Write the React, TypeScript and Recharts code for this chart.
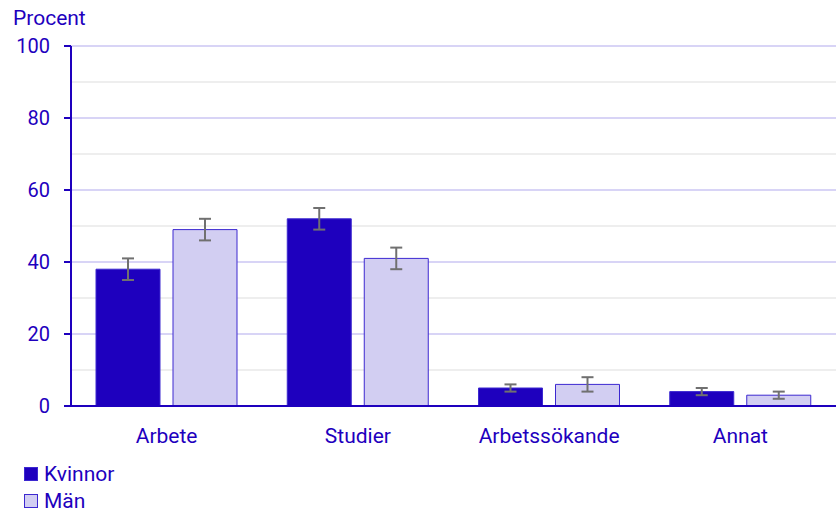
import React from "react";
import { BarChart, Bar, XAxis, YAxis, ErrorBar, CartesianGrid } from "recharts";

const categories = ["Arbete", "Studier", "Arbetssökande", "Annat"];
const kvinnor = [38, 52, 5, 4];
const kvinnorErr = [3, 3, 1, 1];
const man = [49, 41, 6, 3];
const manErr = [3, 3, 2, 1];
const yTicks = [0, 20, 40, 60, 80, 100];
const majorLines = [20, 40, 60, 80, 100];
const minorLines = [10, 30, 50, 70, 90];

const TEXT = "#1E00BE";
const DARK = "#1E00BE";
const LIGHT = "#D2CEF2";
const EDGE = "#3C28D0";
const FONT = "Roboto, 'Noto Sans', sans-serif";

const data = categories.map((name, i) => ({
  name,
  kvinnor: kvinnor[i],
  kvinnorErr: kvinnorErr[i],
  man: man[i],
  manErr: manErr[i],
}));

export default function App() {
  return (
    <div style={{ position: "absolute", left: 0, top: 0, width: 836, height: 514, fontFamily: FONT, background: "#fff" }}>
      <BarChart
        width={836}
        height={460}
        data={data}
        margin={{ top: 46, right: 0, left: 11, bottom: 0 }}
        barCategoryGap={25}
        barGap={13}
      >
        <CartesianGrid vertical={false} horizontalValues={minorLines} stroke="#EEEEEE" strokeWidth={2} />
        <CartesianGrid vertical={false} horizontalValues={majorLines} stroke="#D8D4F6" strokeWidth={2} />
        <XAxis
          dataKey="name"
          axisLine={{ stroke: DARK, strokeWidth: 2 }}
          tickLine={false}
          tickSize={6}
          tickMargin={16}
          tick={{ fill: TEXT, fontSize: 21, fontFamily: FONT }}
          height={54}
        />
        <YAxis
          domain={[0, 100]}
          ticks={yTicks}
          width={60}
          axisLine={{ stroke: DARK, strokeWidth: 2 }}
          tickLine={{ stroke: DARK, strokeWidth: 2 }}
          tickSize={7}
          tickMargin={14}
          tick={{ fill: TEXT, fontSize: 20, fontFamily: FONT }}
        />
        <Bar dataKey="kvinnor" fill={DARK} stroke={EDGE} strokeWidth={1} isAnimationActive={false}>
          <ErrorBar dataKey="kvinnorErr" width={6} stroke="#707070" strokeWidth={2} isAnimationActive={false} />
        </Bar>
        <Bar dataKey="man" fill={LIGHT} stroke={EDGE} strokeWidth={1} isAnimationActive={false}>
          <ErrorBar dataKey="manErr" width={6} stroke="#707070" strokeWidth={2} isAnimationActive={false} />
        </Bar>
      </BarChart>
      <svg
        width={836}
        height={514}
        style={{ position: "absolute", left: 0, top: 0, pointerEvents: "none" }}
        fontFamily={FONT}
      >
        <text x={13} y={25} fontSize={21} fill={TEXT}>Procent</text>
        <rect x={24.5} y={467.5} width={13} height={13} fill={DARK} stroke={EDGE} />
        <text x={44} y={481} fontSize={21} fill={TEXT}>Kvinnor</text>
        <rect x={24.5} y={494.5} width={13} height={13} fill={LIGHT} stroke={EDGE} />
        <text x={44} y={508} fontSize={21} fill={TEXT}>Män</text>
      </svg>
    </div>
  );
}
